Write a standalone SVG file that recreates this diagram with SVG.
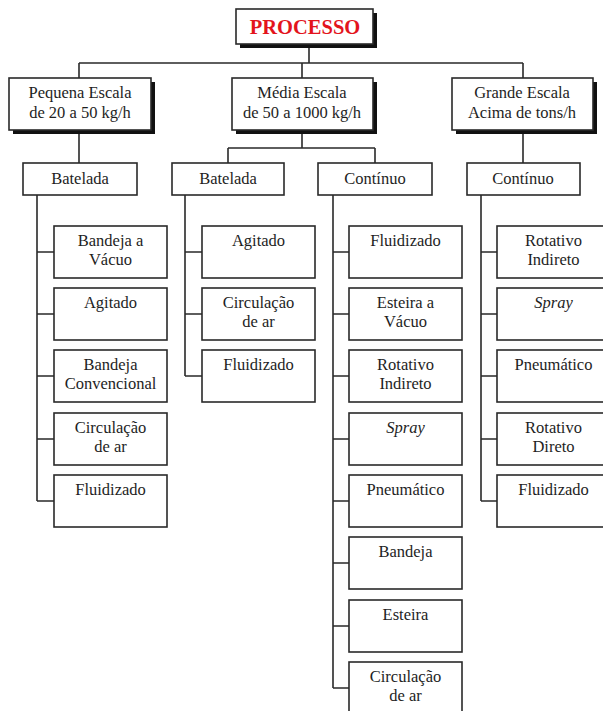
<svg xmlns="http://www.w3.org/2000/svg" width="603" height="711" viewBox="0 0 603 711">
<style>
.bx{fill:#fff;stroke:#2a2a2a;stroke-width:1.6}
.sh{fill:#111}
.ln{stroke:#2a2a2a;stroke-width:1.6;fill:none}
text{font-family:"Liberation Serif","Times New Roman",serif;font-size:16.5px;fill:#1e1e1e;text-anchor:middle}
.t{font-weight:bold;fill:#e3141c;font-size:20.5px}
.i{font-style:italic}
</style>
<rect width="603" height="711" fill="#fff"/>
<g id="connectors">
<path class="ln" d="M309 47V63M79 63H523M79 63V78M302 63V78M523 63V78"/>
<path class="ln" d="M79 133V163M302 134V148M228 148H375M228 148V163M375 148V163M523 133V163"/>
<path class="ln" d="M37 195V501M37 252H54M37 314H54M37 376H54M37 439H54M37 501H54"/>
<path class="ln" d="M185 195V376M185 252H202M185 314H202M185 376H202"/>
<path class="ln" d="M333 195V688M333 252H349M333 314H349M333 376H349M333 439H349M333 501H349M333 563H349M333 626H349M333 688H349"/>
<path class="ln" d="M481 195V501M481 252H497M481 314H497M481 376H497M481 439H497M481 501H497"/>
</g>
<g id="processo"><rect class="sh" x="240" y="13" width="137" height="35"/><rect class="bx" x="236" y="9" width="137" height="35"/><text class="t" x="305" y="34">PROCESSO</text></g>
<g id="pequena"><rect class="sh" x="13" y="82" width="142" height="52"/><rect class="bx" x="9" y="78" width="142" height="52"/><text x="80" y="98">Pequena Escala</text><text x="80" y="118">de 20 a 50 kg/h</text></g>
<g id="media"><rect class="sh" x="236" y="82" width="141" height="52"/><rect class="bx" x="232" y="78" width="141" height="52"/><text x="302" y="98">Média Escala</text><text x="302" y="118">de 50 a 1000 kg/h</text></g>
<g id="grande"><rect class="sh" x="456" y="82" width="141" height="52"/><rect class="bx" x="452" y="78" width="141" height="52"/><text x="522" y="98">Grande Escala</text><text x="522" y="118">Acima de tons/h</text></g>
<g id="batelada-p"><rect class="bx" x="23" y="163" width="114" height="32"/><text x="80" y="184">Batelada</text></g>
<g id="batelada-m"><rect class="bx" x="172" y="163" width="112" height="32"/><text x="228" y="184">Batelada</text></g>
<g id="continuo-m"><rect class="bx" x="318" y="163" width="114" height="32"/><text x="375" y="184">Contínuo</text></g>
<g id="continuo-g"><rect class="bx" x="467" y="163" width="113" height="32"/><text x="523" y="184">Contínuo</text></g>
<g id="p1"><rect class="bx" x="54" y="226" width="113" height="52"/><text x="110.5" y="246">Bandeja a</text><text x="110.5" y="265">Vácuo</text></g>
<g id="p2"><rect class="bx" x="54" y="288" width="113" height="52"/><text x="110.5" y="308">Agitado</text></g>
<g id="p3"><rect class="bx" x="54" y="350" width="113" height="52"/><text x="110.5" y="370">Bandeja</text><text x="110.5" y="389">Convencional</text></g>
<g id="p4"><rect class="bx" x="54" y="413" width="113" height="52"/><text x="110.5" y="433">Circulação</text><text x="110.5" y="452">de ar</text></g>
<g id="p5"><rect class="bx" x="54" y="475" width="113" height="52"/><text x="110.5" y="495">Fluidizado</text></g>
<g id="m1"><rect class="bx" x="202" y="226" width="113" height="52"/><text x="258.5" y="246">Agitado</text></g>
<g id="m2"><rect class="bx" x="202" y="288" width="113" height="52"/><text x="258.5" y="308">Circulação</text><text x="258.5" y="327">de ar</text></g>
<g id="m3"><rect class="bx" x="202" y="350" width="113" height="52"/><text x="258.5" y="370">Fluidizado</text></g>
<g id="c1"><rect class="bx" x="349" y="226" width="113" height="52"/><text x="405.5" y="246">Fluidizado</text></g>
<g id="c2"><rect class="bx" x="349" y="288" width="113" height="52"/><text x="405.5" y="308">Esteira a</text><text x="405.5" y="327">Vácuo</text></g>
<g id="c3"><rect class="bx" x="349" y="350" width="113" height="52"/><text x="405.5" y="370">Rotativo</text><text x="405.5" y="389">Indireto</text></g>
<g id="c4"><rect class="bx" x="349" y="413" width="113" height="52"/><text class="i" x="405.5" y="433">Spray</text></g>
<g id="c5"><rect class="bx" x="349" y="475" width="113" height="52"/><text x="405.5" y="495">Pneumático</text></g>
<g id="c6"><rect class="bx" x="349" y="537" width="113" height="52"/><text x="405.5" y="557">Bandeja</text></g>
<g id="c7"><rect class="bx" x="349" y="600" width="113" height="52"/><text x="405.5" y="620">Esteira</text></g>
<g id="c8"><rect class="bx" x="349" y="662" width="113" height="52"/><text x="405.5" y="682">Circulação</text><text x="405.5" y="701">de ar</text></g>
<g id="g1"><rect class="bx" x="497" y="226" width="113" height="52"/><text x="553.5" y="246">Rotativo</text><text x="553.5" y="265">Indireto</text></g>
<g id="g2"><rect class="bx" x="497" y="288" width="113" height="52"/><text class="i" x="553.5" y="308">Spray</text></g>
<g id="g3"><rect class="bx" x="497" y="350" width="113" height="52"/><text x="553.5" y="370">Pneumático</text></g>
<g id="g4"><rect class="bx" x="497" y="413" width="113" height="52"/><text x="553.5" y="433">Rotativo</text><text x="553.5" y="452">Direto</text></g>
<g id="g5"><rect class="bx" x="497" y="475" width="113" height="52"/><text x="553.5" y="495">Fluidizado</text></g>
</svg>
